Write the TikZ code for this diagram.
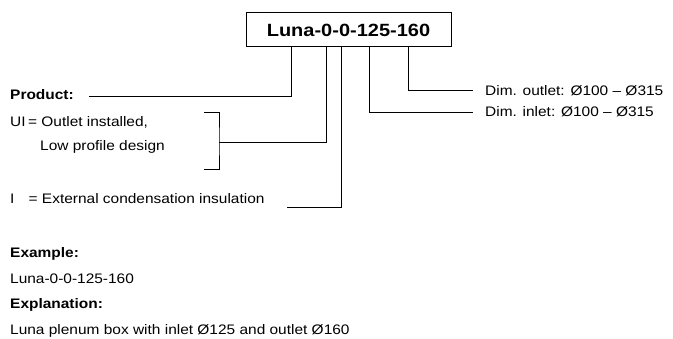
\documentclass[tikz,border=0pt]{standalone}
\usepackage{fontspec}
\usepackage{graphicx}
\setmainfont{Liberation Sans}
\newcommand{\sxb}[1]{\scalebox{1.12}[1]{#1}}
\tikzset{
  txt/.style={anchor=base west, inner sep=0pt, font=\fontsize{13.8}{16}\selectfont},
  btxt/.style={txt, font=\fontsize{13.8}{16}\selectfont\bfseries},
  conn/.style={line width=0.9pt, black},
}
\begin{document}
\begin{tikzpicture}[x=1pt,y=-1pt]
\useasboundingbox (0,0) rectangle (673,338);
% title box
\node[draw, line width=0.9pt, minimum width=205pt, minimum height=34pt, inner sep=0pt,
      font=\fontsize{17.7}{20}\selectfont\bfseries] (title) at (348.5,29) {};
\node[anchor=base, inner sep=0pt, font=\fontsize{17.7}{20}\selectfont\bfseries] (titletext) at (348.5,36) {\scalebox{1.13}[1]{Luna-0-0-125-160}};
% labels
\node[btxt] (product) at (10,99) {\sxb{Product:}};
\node[txt] (ui) at (10,126.7) {\sxb{\makebox[16pt][l]{UI}= Outlet installed,}};
\node[txt] (low) at (40,150) {\sxb{Low profile design}};
\node[txt] (ins) at (10,203.3) {\sxb{\makebox[16.5pt][l]{I}= External condensation insulation}};
\node[txt] (dout) at (485,95) {\sxb{Dim. outlet: Ø100 – Ø315}};
\node[txt] (din) at (485,116.7) {\sxb{Dim. inlet: Ø100 – Ø315}};
\node[btxt] (ex) at (10,257.7) {\sxb{Example:}};
\node[txt] (exv) at (10,283) {\sxb{Luna-0-0-125-160}};
\node[btxt] (expl) at (10,308) {\sxb{Explanation:}};
\node[txt] (explv) at (10,334) {\sxb{Luna plenum box with inlet Ø125 and outlet Ø160}};
% connector ends
\coordinate (a1) at (291,46);  \coordinate (a2) at (89,96);
\coordinate (b1) at (326,46);  \coordinate (b2) at (219,142);
\coordinate (c1) at (341,46);  \coordinate (c2) at (287,207);
\coordinate (d1) at (369,46);  \coordinate (d2) at (473,112);
\coordinate (e1) at (408,46);  \coordinate (e2) at (473,90);
\coordinate (bt) at (204,112); \coordinate (bb) at (204,169);
% connectors
\draw[conn] (a1) |- (a2);
\draw[conn] (b1) |- (b2);
\draw[conn] (c1) |- (c2);
\draw[conn] (d1) |- (d2);
\draw[conn] (e1) |- (e2);
\draw[conn] (bt) -| (b2) |- (bb);
\end{tikzpicture}
\end{document}
